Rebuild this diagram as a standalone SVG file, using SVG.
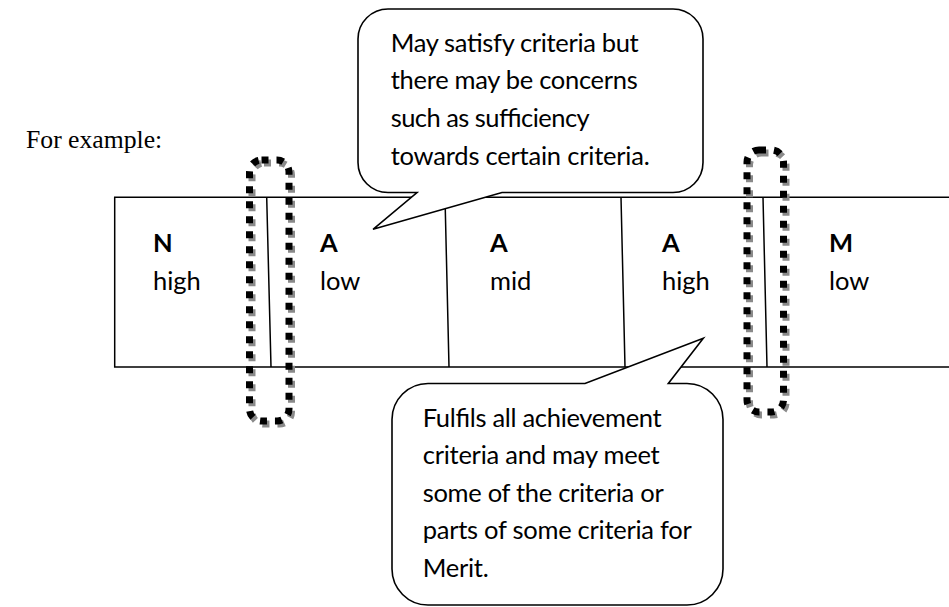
<svg xmlns="http://www.w3.org/2000/svg" width="949" height="607" viewBox="0 0 949 607">
<style>
  .ln{fill:none;stroke:#000;stroke-width:1.5}
  .box{fill:#fff;stroke:#000;stroke-width:1.6}
  .dot{fill:none;stroke:#000;stroke-width:7;stroke-dasharray:7 8}
  .dotsh{fill:none;stroke:#8a8a8a;stroke-width:7;stroke-dasharray:7 8}
  .t{font-family:Lato,"Open Sans",sans-serif;font-size:25.5px;fill:#000}
  .b{font-weight:700}
  .serif{font-family:"Liberation Serif","Times New Roman",serif;font-size:25.7px;fill:#000}
</style>
<rect width="949" height="607" fill="#fff"/>
<text class="serif" x="26" y="148">For example:</text>
<g id="band">
  <path class="ln" d="M949,197.3 H114.7 V367 H949"/>
  <path class="ln" d="M266.7,197.3 L271,367 M445,197.3 L449,367 M621,197.3 L625,367 M763,197.3 L767,367"/>
</g>
<g id="cell-n-high">
  <text class="t b" x="153" y="252">N</text>
  <text class="t" x="153" y="290">high</text>
</g>
<g id="cell-a-low">
  <text class="t b" x="320" y="252">A</text>
  <text class="t" x="320" y="290">low</text>
</g>
<g id="cell-a-mid">
  <text class="t b" x="490" y="252">A</text>
  <text class="t" x="490" y="290">mid</text>
</g>
<g id="cell-a-high">
  <text class="t b" x="662" y="252">A</text>
  <text class="t" x="662" y="290">high</text>
</g>
<g id="cell-m-low">
  <text class="t b" x="829" y="252">M</text>
  <text class="t" x="829" y="290">low</text>
</g>
<g id="boundary-1">
  <rect class="dotsh" x="252" y="163" width="39.5" height="261" rx="12"/>
  <rect class="dot" x="249.5" y="160" width="39.5" height="261" rx="12"/>
</g>
<g id="boundary-2">
  <rect class="dotsh" x="749.5" y="153" width="36.5" height="262" rx="12"/>
  <rect class="dot" x="747" y="150" width="36.5" height="262" rx="12"/>
</g>
<g id="callout-top">
  <path class="box" d="M388,9 H673 A30,30 0 0 1 703,39 V162.5 A30,30 0 0 1 673,192.5 H502 L373,229.3 L417,192.5 H388 A30,30 0 0 1 358,162.5 V39 A30,30 0 0 1 388,9 Z"/>
  <text class="t" x="390.7" y="51.7" textLength="248" lengthAdjust="spacing">May satisfy criteria but</text>
  <text class="t" x="390.7" y="89.2" textLength="247" lengthAdjust="spacing">there may be concerns</text>
  <text class="t" x="390.7" y="126.8" textLength="199" lengthAdjust="spacing">such as sufficiency</text>
  <text class="t" x="390.7" y="164.5" textLength="259" lengthAdjust="spacing">towards certain criteria.</text>
</g>
<g id="callout-bottom">
  <path class="box" d="M428,383.5 H585 L703.3,338.3 L668.3,383.5 H687 A36,36 0 0 1 723,419.5 V569 A36,36 0 0 1 687,605 H428 A36,36 0 0 1 392,569 V419.5 A36,36 0 0 1 428,383.5 Z"/>
  <text class="t" x="422.7" y="426.7" textLength="239" lengthAdjust="spacing">Fulfils all achievement</text>
  <text class="t" x="422.7" y="464.2" textLength="237" lengthAdjust="spacing">criteria and may meet</text>
  <text class="t" x="422.7" y="501.7" textLength="241" lengthAdjust="spacing">some of the criteria or</text>
  <text class="t" x="422.7" y="539.2" textLength="269" lengthAdjust="spacing">parts of some criteria for</text>
  <text class="t" x="422.7" y="576.7" textLength="66" lengthAdjust="spacing">Merit.</text>
</g>
</svg>
